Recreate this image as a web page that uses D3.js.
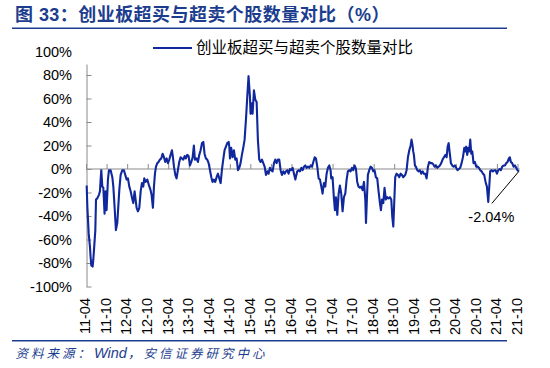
<!DOCTYPE html>
<html><head><meta charset="utf-8">
<script src="https://cdn.jsdelivr.net/npm/d3@7"></script>
<style>
body{margin:0;background:#fff;}
svg{display:block;font-family:"Liberation Sans","Noto Sans CJK SC",Arial,sans-serif;}
</style></head><body>
<svg id="c" width="550" height="368"></svg>
<script>
const titleText = "图 33：创业板超买与超卖个股数量对比（%）";
const seriesName = "创业板超买与超卖个股数量对比";
const sourceParts = ["资料来源：", "Wind", "，安信证券研究中心"];
const lastLabel = "-2.04%";
const yTicks = [100, 80, 60, 40, 20, 0, -20, -40, -60, -80, -100];
const xTickLabels = ["11-04","11-10","12-04","12-10","13-04","13-10","14-04","14-10","15-04","15-10","16-04","16-10","17-04","17-10","18-04","18-10","19-04","19-10","20-04","20-10","21-04","21-10"];

const dates = [
"2011-04-07","2011-04-13","2011-04-25","2011-05-06","2011-05-12","2011-05-18","2011-05-30","2011-06-05","2011-06-11","2011-06-23","2011-06-29","2011-07-10","2011-07-25","2011-08-03","2011-08-09","2011-08-15","2011-08-24","2011-09-02","2011-09-13","2011-09-22","2011-10-01","2011-10-13","2011-10-22","2011-11-06","2011-11-21","2011-11-30","2011-12-11","2011-12-23",
"2012-01-04","2012-01-13","2012-01-22","2012-02-03","2012-02-18","2012-03-03","2012-03-15","2012-03-27","2012-04-08","2012-04-20","2012-05-02","2012-05-13","2012-05-25","2012-06-06","2012-06-15","2012-06-24","2012-07-06","2012-07-18","2012-07-30","2012-08-10","2012-08-22","2012-08-31","2012-09-12","2012-09-27","2012-10-12","2012-10-26","2012-11-04","2012-11-16","2012-11-25","2012-12-04","2012-12-13","2012-12-25",
"2013-01-05","2013-01-17","2013-01-29","2013-02-10","2013-02-22","2013-03-06","2013-03-18","2013-03-30","2013-04-10","2013-04-22","2013-05-04","2013-05-13","2013-05-22","2013-06-03","2013-06-14","2013-06-26","2013-07-08","2013-07-20","2013-08-01","2013-08-13","2013-08-25","2013-09-05","2013-09-17","2013-09-29","2013-10-11","2013-10-23","2013-11-04","2013-11-15","2013-11-24","2013-12-09","2013-12-21",
"2014-01-02","2014-01-14","2014-01-26","2014-02-07","2014-02-18","2014-03-02","2014-03-14","2014-03-26","2014-04-07","2014-04-19","2014-04-30","2014-05-12","2014-05-24","2014-06-05","2014-06-17","2014-06-29","2014-07-11","2014-07-22","2014-08-03","2014-08-15","2014-08-27","2014-09-08","2014-09-20","2014-09-26","2014-10-02","2014-10-13","2014-10-25","2014-11-06","2014-11-18","2014-11-30","2014-12-12","2014-12-24",
"2015-01-04","2015-01-16","2015-01-28","2015-02-09","2015-02-21","2015-03-05","2015-03-16","2015-03-28","2015-04-03","2015-04-15","2015-04-21","2015-05-03","2015-05-15","2015-05-27","2015-06-07","2015-06-19","2015-07-01","2015-07-13","2015-07-25","2015-08-06","2015-08-18","2015-08-30","2015-09-10","2015-09-22","2015-10-04","2015-10-16","2015-10-28","2015-11-09","2015-11-20","2015-12-02","2015-12-14","2015-12-26",
"2016-01-07","2016-01-19","2016-01-31","2016-02-12","2016-02-24","2016-03-06","2016-03-18","2016-03-30","2016-04-11","2016-04-23","2016-05-05","2016-05-22","2016-06-03","2016-06-15","2016-06-27","2016-07-09","2016-07-21","2016-08-01","2016-08-13","2016-08-25","2016-09-06","2016-09-18","2016-09-30","2016-10-12","2016-10-24","2016-11-04","2016-11-16","2016-11-28","2016-12-10","2016-12-22",
"2017-01-02","2017-01-14","2017-01-26","2017-02-07","2017-02-19","2017-03-03","2017-03-14","2017-03-20","2017-04-01","2017-04-13","2017-04-22","2017-05-01","2017-05-13","2017-05-25","2017-06-05","2017-06-17","2017-06-29","2017-07-11","2017-07-23","2017-08-04","2017-08-15","2017-08-27","2017-09-08","2017-09-20","2017-10-02","2017-10-14","2017-10-26","2017-11-06","2017-11-18","2017-11-30","2017-12-12","2017-12-24",
"2018-01-05","2018-01-17","2018-01-23","2018-01-31","2018-02-09","2018-02-21","2018-03-05","2018-03-17","2018-03-29","2018-04-09","2018-04-21","2018-05-03","2018-05-15","2018-05-27","2018-06-05","2018-06-14","2018-06-26","2018-07-07","2018-07-19","2018-07-31","2018-08-12","2018-08-24","2018-09-05","2018-09-14","2018-09-23","2018-10-01","2018-10-10","2018-10-22","2018-11-03","2018-11-15","2018-11-27","2018-12-08","2018-12-20",
"2019-01-07","2019-01-19","2019-01-31","2019-02-12","2019-02-24","2019-03-04","2019-03-13","2019-03-19","2019-03-25","2019-04-03","2019-04-12","2019-04-24","2019-05-06","2019-05-17","2019-05-29","2019-06-10","2019-06-22","2019-07-04","2019-07-16","2019-07-28","2019-08-08","2019-08-20","2019-09-01","2019-09-13","2019-09-25","2019-10-07","2019-10-19","2019-10-31","2019-11-11","2019-11-23","2019-12-05","2019-12-17","2019-12-29",
"2020-01-10","2020-01-19","2020-01-28","2020-02-05","2020-02-17","2020-02-29","2020-03-12","2020-03-24","2020-04-04","2020-04-16","2020-04-28","2020-05-10","2020-05-22","2020-06-03","2020-06-15","2020-06-24","2020-07-02","2020-07-11","2020-07-20","2020-07-29","2020-08-07","2020-08-16","2020-08-25","2020-09-05","2020-09-17","2020-09-29","2020-10-11","2020-10-23","2020-11-04","2020-11-16","2020-11-28","2020-12-09","2020-12-21",
"2021-01-02","2021-01-14","2021-01-23","2021-01-31","2021-02-12","2021-02-24","2021-03-08","2021-03-20","2021-04-01","2021-04-13","2021-04-25","2021-05-06","2021-05-18","2021-05-30","2021-06-11","2021-06-23","2021-07-05","2021-07-16","2021-07-25","2021-08-03","2021-08-15","2021-08-27","2021-09-08","2021-09-20","2021-10-01","2021-10-13"
];

const values = [
-14,-32,-55,-66,-75,-82,-83,-77,-69,-52,-26,-25,-22,-19,-9,-1,-15,-16,-38,-19,-35,-9,-1,-1,-7,-15,-32,-52,
-46,-32,-18,-5,-1,-1,-5,-9,-8,-15,-19,-24,-29,-19,-26,-33,-36,-33,-19,-12,-15,-8,-11,-9,-14,-18,-22,-33,-15,-4,2,5,
6,8,9,13,10,6,9,5,8,12,16,10,2,-5,-8,-1,6,10,9,8,11,9,12,11,3,6,10,20,8,9,6,
12,16,22,23,13,9,8,5,-1,-7,-11,-9,-11,-7,-4,-8,-12,-1,8,16,19,22,23,19,9,18,10,16,8,9,-1,1,
5,12,18,25,42,62,79,62,47,56,47,67,59,57,25,8,6,8,5,2,-5,-2,-4,1,-1,-2,5,8,5,8,8,-1,
-5,-2,-4,-2,-1,-4,0,-1,1,-4,-9,-2,-1,-2,1,-1,2,3,1,2,1,3,2,6,10,9,2,-8,-9,-15,
-21,-12,-15,-4,1,3,-1,-8,-7,-25,-35,-24,-39,-21,-14,-21,-36,-24,-21,-9,-2,-1,-2,1,-1,3,0,-11,-15,-16,-15,-18,
-11,-26,-46,-26,-5,-1,2,1,-2,-1,-7,-8,-19,-29,-35,-26,-29,-16,-26,-24,-25,-24,-26,-41,-49,-29,-7,-4,-5,-7,-4,-5,-7,
-5,-1,10,16,20,25,20,15,12,3,2,-1,-2,-1,-4,-2,-4,-4,-8,2,6,5,5,4,2,3,1,2,3,5,8,10,12,
10,19,22,15,5,3,2,3,1,-1,0,1,5,10,18,15,19,12,18,15,25,13,15,5,6,2,2,1,-1,-2,-4,-5,-11,
-15,-28,-15,-2,-1,-2,-1,-1,-4,-1,0,-1,2,3,3,5,6,9,10,6,5,2,3,1,-1,-2.04
];

const parse = d3.timeParse("%Y-%m-%d");
const data = dates.map((d, i) => ({date: parse(d), value: values[i]}));
const tickDates = xTickLabels.map(l => parse("20" + l + "-01"));

const svg = d3.select("#c");
const blue = "#1c3d8e";
const lineColor = "#10289c";
const axisColor = "#8a8a8a";

const x = d3.scaleTime().domain([parse("2011-04-01"), parse("2021-10-01")]).range([86, 517.5]);
const y = d3.scaleLinear().domain([-100, 100]).range([286.5, 51.5]);
const xEnd = x(data[data.length - 1].date) + 1;

// Title
svg.append("text").attr("x", 15).attr("y", 20.5)
  .attr("font-size", 18).attr("font-weight", "bold").attr("fill", blue)
  .attr("letter-spacing", 0.45)
  .text(titleText);
svg.append("line").attr("x1", 12).attr("x2", 507).attr("y1", 28.3).attr("y2", 28.3)
  .attr("stroke", blue).attr("stroke-width", 1.5);

// Y axis
const yAxis = d3.axisLeft(y).tickValues(yTicks).tickSize(-5).tickSizeOuter(0).tickPadding(14.5)
  .tickFormat(d => d + "%");
const gy = svg.append("g").attr("transform", "translate(86.5,0)").call(yAxis);
gy.select(".domain").attr("stroke", axisColor);
gy.selectAll(".tick line").attr("stroke", axisColor);
gy.selectAll(".tick text").attr("font-size", 14.5).attr("fill", "#000")
  .attr("font-family", "Liberation Sans, Arial, sans-serif");

// X axis on zero line
const xAxis = d3.axisTop(x).tickValues(tickDates).tickSize(5).tickSizeOuter(0).tickFormat("");
const gx = svg.append("g").attr("transform", `translate(0,${y(0)})`).call(xAxis);
gx.select(".domain").attr("stroke", axisColor).attr("d", `M${x.range()[0]},0H${xEnd}`);
gx.selectAll(".tick line").attr("stroke", axisColor);

// X labels (rotated) at bottom
svg.append("g").selectAll("text").data(tickDates).join("text")
  .attr("transform", d => `translate(${x(d) - 0.8},298) rotate(-90)`)
  .attr("text-anchor", "end").attr("dy", "0.35em")
  .attr("font-size", 14.5).attr("fill", "#000")
  .text((d, i) => xTickLabels[i]);

// Legend (white box over the axis top)
const lg = svg.append("g");
lg.append("rect").attr("x", 80).attr("y", 34).attr("width", 352).attr("height", 30.5).attr("fill", "#fff");
lg.append("line").attr("x1", 153).attr("x2", 192).attr("y1", 48).attr("y2", 48)
  .attr("stroke", lineColor).attr("stroke-width", 2);
lg.append("text").attr("x", 196).attr("y", 47.5).attr("dy", "0.36em")
  .attr("font-size", 15.5).attr("fill", "#000").text(seriesName);

// Data line
const line = d3.line().x(d => x(d.date)).y(d => y(d.value));
svg.append("path").datum(data).attr("d", line)
  .attr("fill", "none").attr("stroke", lineColor).attr("stroke-width", 2.1)
  .attr("stroke-linejoin", "round");

// Annotation for last value
const last = data[data.length - 1];
const lx = x(last.date), ly = y(last.value);
svg.append("line").attr("x1", lx).attr("y1", ly).attr("x2", lx - 27).attr("y2", ly + 32)
  .attr("stroke", "#000").attr("stroke-width", 1);
svg.append("text").attr("x", lx - 27.5).attr("y", ly + 50.5).attr("text-anchor", "middle")
  .attr("font-size", 14.5).attr("fill", "#000").text(lastLabel);

// Source
svg.append("line").attr("x1", 12).attr("x2", 507).attr("y1", 340.7).attr("y2", 340.7)
  .attr("stroke", blue).attr("stroke-width", 1.5);
const src = svg.append("text").attr("x", 15.5).attr("y", 357.5)
  .attr("font-size", 12.5).attr("font-style", "italic").attr("fill", blue);
src.append("tspan").attr("letter-spacing", 3).text(sourceParts[0]);
src.append("tspan").attr("font-size", 14.5).attr("dx", 1).text(sourceParts[1]);
src.append("tspan").attr("letter-spacing", 3).attr("dx", 1).text(sourceParts[2]);
</script>
</body></html>
